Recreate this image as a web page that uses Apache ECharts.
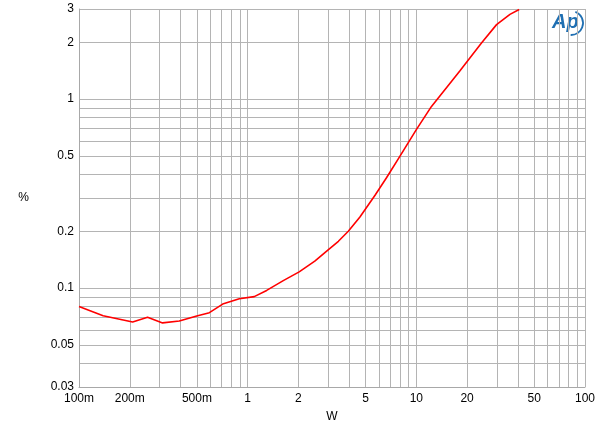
<!DOCTYPE html>
<html><head><meta charset="utf-8">
<script src="https://cdn.jsdelivr.net/npm/echarts@6/dist/echarts.min.js"></script>
<style>html,body{margin:0;padding:0;background:#fff}#c{width:600px;height:434px}</style>
</head><body><div id="c"></div>
<script>
const powerW = [0.1,0.139,0.208,0.255,0.313,0.393,0.499,0.593,0.711,0.892,1.094,1.296,1.626,2.02,2.5,2.94,3.45,3.95,4.63,5.69,6.67,8.0,10.0,12.3,18.1,24.4,29.9,35.9,40.7];
const thdPct = [0.080,0.0715,0.0662,0.0701,0.0655,0.067,0.0713,0.0742,0.0824,0.0879,0.0902,0.0973,0.1096,0.122,0.139,0.157,0.177,0.200,0.238,0.31,0.385,0.50,0.69,0.916,1.41,1.99,2.48,2.81,2.98];
const xGrid = [0.1,0.2,0.3,0.4,0.5,0.6,0.7,0.8,0.9,1,2,3,4,5,6,7,8,9,10,20,30,40,50,60,70,80,90,100];
const xLabels = [0.1,0.2,0.5,1,2,5,10,20,50,100];
const yGrid = [0.03,0.04,0.05,0.06,0.07,0.08,0.09,0.1,0.2,0.3,0.4,0.5,0.6,0.7,0.8,0.9,1,2,3];
const yLabels = [0.03,0.05,0.1,0.2,0.5,1,2,3];

const chart = echarts.init(document.getElementById('c'));
const gridLine = {show:true, lineStyle:{color:'#b4b4b4', width:1}};
const font = {fontFamily:'Liberation Sans, Arial, sans-serif', fontSize:12, color:'#000'};
chart.setOption({
  animation:false,
  grid:{left:79, right:15, top:9, bottom:47, containLabel:false},
  xAxis:{
    type:'log', logBase:10, min:0.1, max:100,
    name:'W', nameLocation:'middle', nameGap:24,
    nameTextStyle:{...font, fontSize:12},
    axisLine:{show:true, lineStyle:{color:'#a8a8a8'}},
    axisTick:{show:false, customValues:xGrid},
    splitLine:gridLine,
    minorSplitLine:{show:false},
    axisLabel:{...font, margin:6, customValues:xLabels,
      formatter:v=>{ if (v<1) return Math.round(v*1000)+'m'; return String(Math.round(v)); }}
  },
  yAxis:{
    type:'log', logBase:10, min:0.03, max:3,
    name:'%', nameLocation:'middle', nameGap:50, nameRotate:0,
    nameTextStyle:{...font},
    axisLine:{show:true, lineStyle:{color:'#a8a8a8'}},
    axisTick:{show:false, customValues:yGrid},
    splitLine:gridLine,
    axisLabel:{...font, margin:5, customValues:yLabels,
      formatter:v=>String(parseFloat(v.toPrecision(3)))}
  },
  graphic:[
    {type:'rect', shape:{x:551, y:11, width:35, height:25}, style:{fill:'#fff'}},
    {type:'text', left:552, top:12, style:{text:'Ap', font:'italic bold 20px Liberation Sans, Arial, sans-serif', fill:'#1f6fb2'}},
    {type:'arc', shape:{cx:571, cy:23, r:12, startAngle:-1.2, endAngle:1.6}, style:{stroke:'#1f6fb2', lineWidth:1.8, fill:null}}
  ],
  series:[{
    type:'line', data:powerW.map((x,i)=>[x,thdPct[i]]),
    showSymbol:false, lineStyle:{color:'#ff0000', width:1.6}, smooth:false
  }]
});
</script></body></html>
